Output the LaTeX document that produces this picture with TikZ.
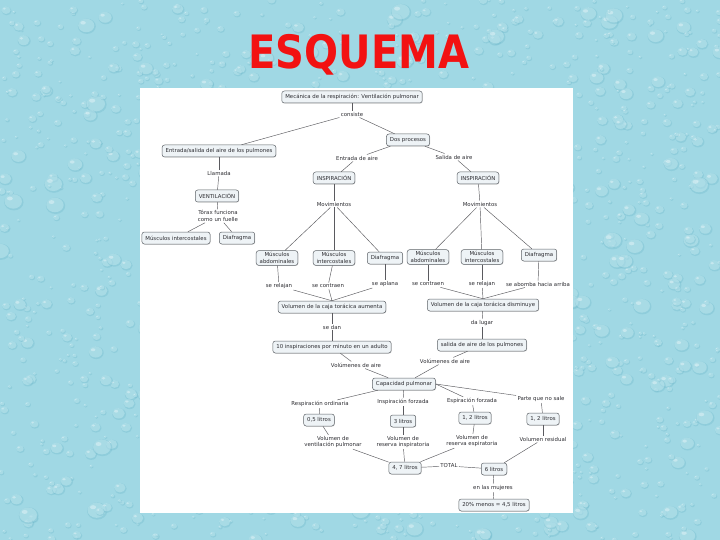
\documentclass[tikz,border=0pt]{standalone}
\usepackage{fontspec}
\newfontfamily\mapfont{DejaVu Sans}
\newfontfamily\titlefont{DejaVu Sans}
\usetikzlibrary{shadows}
\definecolor{bgblue}{RGB}{160,216,228}
\definecolor{dropdark}{RGB}{104,180,200}
\definecolor{droplight}{RGB}{206,240,246}
\definecolor{boxfill}{RGB}{238,243,246}
\definecolor{boxline}{RGB}{95,100,105}
\definecolor{txt}{RGB}{45,45,50}
\definecolor{connc}{RGB}{90,90,95}
\definecolor{titlered}{RGB}{242,18,18}
\tikzset{
  mapbox/.style={draw=boxline, fill=boxfill, rounded corners=2.5pt, line width=0.5pt,
    inner xsep=3.5pt, inner ysep=2pt, minimum height=12pt, text=txt, align=center,
    font=\mapfont\fontsize{5.4}{6.3}\selectfont,
    drop shadow={shadow xshift=0.5pt, shadow yshift=-0.6pt, fill=gray!55, opacity=0.6}},
  maplbl/.style={inner sep=1.2pt, text=txt, align=center,
    font=\mapfont\fontsize{5.4}{6.3}\selectfont},
  conn/.style={draw=connc, line width=0.45pt}
}
\begin{document}
\begin{tikzpicture}[x=1pt,y=-1pt]
\useasboundingbox (0,0) rectangle (720,540);
% background with drops
\fill[bgblue] (0,0) rectangle (720,540);
\pgfmathsetseed{17}
\foreach \i in {1,...,1400}{
  \pgfmathsetmacro\xx{rnd*720}
  \pgfmathsetmacro\yy{rnd*540}
  \pgfmathsetmacro\rr{1.5+rnd*rnd*9}
  \fill[dropdark, opacity=0.3] (\xx+0.6,\yy+0.8) ellipse ({\rr} and {\rr*0.85});
  \fill[droplight, opacity=0.4] (\xx,\yy) ellipse ({\rr*0.9} and {\rr*0.75});
  \fill[white, opacity=0.35] (\xx-\rr*0.35,\yy-\rr*0.3) ellipse ({\rr*0.3} and {\rr*0.2});
}
% title
\node[text=titlered, inner sep=0pt] (title) at (359,55)
  {\scalebox{0.87}[1]{\titlefont\bfseries\fontsize{46}{50}\selectfont ESQUEMA}};
% white panel
\fill[white] (140,88) rectangle (573,513);

% nodes
\node[mapbox] (top) at (352,97) {Mecánica de la respiración: Ventilación pulmonar};
\node[maplbl] (consiste) at (352,114) {consiste};
\node[mapbox] (dos) at (408,140) {Dos procesos};
\node[mapbox] (entsal) at (219,151) {Entrada/salida del aire de los pulmones};
\node[maplbl] (entrada) at (357,158) {Entrada de aire};
\node[maplbl] (salida) at (454,157) {Salida de aire};
\node[mapbox] (inspL) at (334,178) {INSPIRACIÓN};
\node[mapbox] (inspR) at (478,178) {INSPIRACIÓN};
\node[maplbl] (llamada) at (219,173) {Llamada};
\node[mapbox] (vent) at (217,196) {VENTILACIÓN};
\node[maplbl] (torax) at (218,216) {Tórax funciona\\como un fuelle};
\node[mapbox] (micA) at (176,238) {Músculos intercostales};
\node[mapbox] (diaA) at (237,238) {Diafragma};
\node[maplbl] (movL) at (334,204) {Movimientos};
\node[maplbl] (movR) at (480,204) {Movimientos};
\node[mapbox] (mabL) at (277,258) {Músculos\\abdominales};
\node[mapbox] (micL) at (334,258) {Músculos\\intercostales};
\node[mapbox] (diaM) at (385,258) {Diafragma};
\node[mapbox] (mabR) at (428,257) {Músculos\\abdominales};
\node[mapbox] (micR) at (482,257) {Músculos\\intercostales};
\node[mapbox] (diaR) at (539,255) {Diafragma};
\node[maplbl] (relL) at (279,286) {se relajan};
\node[maplbl] (conL) at (328,286) {se contraen};
\node[maplbl] (apl) at (385,284) {se aplana};
\node[maplbl] (conR) at (428,284) {se contraen};
\node[maplbl] (relR) at (482,284) {se relajan};
\node[maplbl] (abo) at (538,284) {se abomba hacia arriba};
\node[mapbox] (aum) at (332,307) {Volumen de la caja torácica aumenta};
\node[mapbox] (dis) at (483,305) {Volumen de la caja torácica disminuye};
\node[maplbl] (sedan) at (332,327) {se dan};
\node[maplbl] (dalugar) at (482,323) {da lugar};
\node[mapbox] (diez) at (332,347) {10 inspiraciones por minuto en un adulto};
\node[mapbox] (salaire) at (482,345) {salida de aire de los pulmones};
\node[maplbl] (volL) at (356,365) {Volúmenes de aire};
\node[maplbl] (volR) at (445,361) {Volúmenes de aire};
\node[mapbox] (cap) at (404,384) {Capacidad pulmonar};
\node[maplbl] (resp) at (320,404) {Respiración ordinaria};
\node[maplbl] (inspf) at (403,402) {Inspiración forzada};
\node[maplbl] (espf) at (472,401) {Espiración forzada};
\node[maplbl] (parte) at (541,399) {Parte que no sale};
\node[mapbox] (l05) at (319,420) {0,5 litros};
\node[mapbox] (l3) at (403,421) {3 litros};
\node[mapbox] (l12a) at (475,418) {1, 2 litros};
\node[mapbox] (l12b) at (543,419) {1, 2 litros};
\node[maplbl] (vvp) at (333,442) {Volumen de\\ventilación pulmonar};
\node[maplbl] (vri) at (403,442) {Volumen de\\reserva inspiratoria};
\node[maplbl] (vre) at (472,441) {Volumen de\\reserva espiratoria};
\node[maplbl] (vres) at (543,439) {Volumen residual};
\node[mapbox] (l47) at (405,468) {4, 7 litros};
\node[maplbl] (total) at (449,466) {TOTAL};
\node[mapbox] (l6) at (494,469) {6 litros};
\node[maplbl] (mujeres) at (493,488) {en las mujeres};
\node[mapbox] (menos) at (494,505) {20\% menos = 4,5 litros};

% connectors
\draw[conn] (top) -- (consiste);
\draw[conn] (consiste) -- (entsal);
\draw[conn] (consiste) -- (dos);
\draw[conn] (dos) -- (entrada);
\draw[conn] (entrada) -- (inspL);
\draw[conn] (dos) -- (salida);
\draw[conn] (salida) -- (inspR);
\draw[conn] (entsal) -- (llamada);
\draw[conn] (llamada) -- (vent);
\draw[conn] (vent) -- (torax);
\draw[conn] (torax) -- (micA);
\draw[conn] (torax) -- (diaA);
\draw[conn] (inspL) -- (movL);
\draw[conn] (movL) -- (mabL);
\draw[conn] (movL) -- (micL);
\draw[conn] (movL) -- (diaM);
\draw[conn] (inspR) -- (movR);
\draw[conn] (movR) -- (mabR);
\draw[conn] (movR) -- (micR);
\draw[conn] (movR) -- (diaR);
\draw[conn] (mabL) -- (relL);
\draw[conn] (micL) -- (conL);
\draw[conn] (diaM) -- (apl);
\draw[conn] (relL) -- (aum.north);
\draw[conn] (conL) -- (aum.north);
\draw[conn] (apl) -- (aum.north);
\draw[conn] (mabR) -- (conR);
\draw[conn] (micR) -- (relR);
\draw[conn] (diaR) -- (abo);
\draw[conn] (conR) -- (dis.north);
\draw[conn] (relR) -- (dis.north);
\draw[conn] (abo) -- (dis.north);
\draw[conn] (aum) -- (sedan);
\draw[conn] (sedan) -- (diez);
\draw[conn] (dis) -- (dalugar);
\draw[conn] (dalugar) -- (salaire);
\draw[conn] (diez) -- (volL);
\draw[conn] (volL) -- (cap);
\draw[conn] (salaire) -- (volR);
\draw[conn] (volR) -- (cap);
\draw[conn] (cap) -- (resp);
\draw[conn] (resp) -- (l05);
\draw[conn] (cap) -- (inspf);
\draw[conn] (inspf) -- (l3);
\draw[conn] (cap.east) -- (espf);
\draw[conn] (espf) -- (l12a);
\draw[conn] (cap.east) -- (parte);
\draw[conn] (parte) -- (l12b);
\draw[conn] (l05) -- (vvp);
\draw[conn] (vvp) -- (l47);
\draw[conn] (l3) -- (vri);
\draw[conn] (vri) -- (l47);
\draw[conn] (l12a) -- (vre);
\draw[conn] (vre) -- (l47);
\draw[conn] (l47) -- (total);
\draw[conn] (total) -- (l6);
\draw[conn] (l12b) -- (vres);
\draw[conn] (vres) -- (l6);
\draw[conn] (l6) -- (mujeres);
\draw[conn] (mujeres) -- (menos);
\end{tikzpicture}
\end{document}
